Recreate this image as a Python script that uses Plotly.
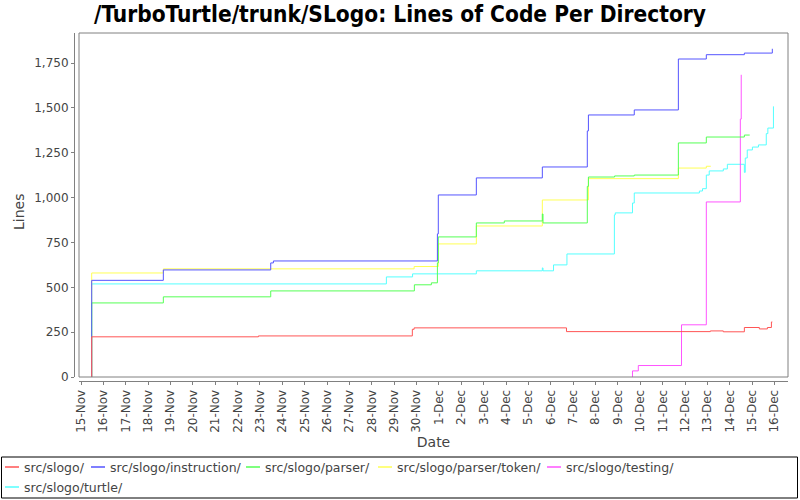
import plotly.graph_objects as go

# series names, in legend order
names = [
    "src/slogo/",
    "src/slogo/instruction/",
    "src/slogo/parser/",
    "src/slogo/parser/token/",
    "src/slogo/testing/",
    "src/slogo/turtle/",
]
colors = ["#FF5555", "#5555FF", "#55FF55", "#FFFF55", "#FF55FF", "#55FFFF"]

red_t = ["2009-11-15 11:28", "2009-11-15 11:28", "2009-11-22 22:19", "2009-11-29 19:26",
         "2009-11-29 21:22", "2009-12-06 16:48", "2009-12-13 03:07", "2009-12-13 17:02",
         "2009-12-14 15:36", "2009-12-15 07:41", "2009-12-15 16:19", "2009-12-15 20:38",
         "2009-12-15 21:36"]
red_v = [0, 224, 229, 266, 274, 253, 257, 252, 276, 268, 276, 307, 307]

blue_t = ["2009-11-15 11:28", "2009-11-15 11:28", "2009-11-18 16:19", "2009-11-23 11:31",
          "2009-11-23 14:24", "2009-11-30 22:19", "2009-11-30 23:17", "2009-12-02 16:05",
          "2009-12-05 14:53", "2009-12-07 15:07", "2009-12-07 16:19", "2009-12-09 17:31",
          "2009-12-11 16:48", "2009-12-12 22:48", "2009-12-14 15:36", "2009-12-15 21:36"]
blue_v = [0, 539, 597, 636, 647, 798, 1015, 1110, 1171, 1372, 1461, 1489, 1773, 1797, 1806, 1830]

green_t = ["2009-11-15 11:28", "2009-11-15 11:28", "2009-11-18 16:19", "2009-11-23 11:31",
           "2009-11-29 21:36", "2009-11-30 15:50", "2009-11-30 22:19", "2009-11-30 23:17",
           "2009-12-02 16:05", "2009-12-03 22:05", "2009-12-05 14:53", "2009-12-05 15:36",
           "2009-12-07 15:07", "2009-12-07 16:19", "2009-12-08 20:24", "2009-12-09 17:31",
           "2009-12-11 16:48", "2009-12-12 22:48", "2009-12-14 15:36", "2009-12-14 21:22"]
green_v = [0, 413, 447, 480, 514, 525, 636, 781, 859, 870, 909, 859, 1063, 1115, 1121, 1126,
           1305, 1338, 1349, 1349]

yellow_t = ["2009-11-15 11:28", "2009-11-15 11:28", "2009-11-18 16:19", "2009-11-29 21:22",
            "2009-11-30 23:17", "2009-12-02 16:05", "2009-12-05 14:53", "2009-12-07 16:19",
            "2009-12-11 16:48", "2009-12-12 22:48", "2009-12-13 03:36"]
yellow_v = [0, 580, 603, 616, 742, 842, 987, 1106, 1165, 1175, 1175]

magenta_t = ["2009-12-09 15:36", "2009-12-09 15:36", "2009-12-09 21:50", "2009-12-11 20:10",
             "2009-12-12 22:48", "2009-12-14 11:17", "2009-12-14 12:14"]
magenta_v = [0, 34, 64, 291, 976, 1438, 1685]

cyan_t = ["2009-11-15 11:28", "2009-11-15 11:28", "2009-11-28 15:36", "2009-11-29 19:41",
          "2009-12-02 16:05", "2009-12-05 14:53", "2009-12-05 15:36", "2009-12-06 02:53",
          "2009-12-06 17:17", "2009-12-08 20:10", "2009-12-08 21:07", "2009-12-09 15:36",
          "2009-12-09 17:31", "2009-12-12 15:22", "2009-12-12 18:43", "2009-12-12 22:48",
          "2009-12-13 01:55", "2009-12-13 17:02", "2009-12-13 21:22", "2009-12-14 15:36",
          "2009-12-14 16:34", "2009-12-14 18:43", "2009-12-15 00:14", "2009-12-15 06:43",
          "2009-12-15 15:07", "2009-12-15 16:48", "2009-12-15 22:48"]
cyan_v = [0, 519, 558, 575, 592, 608, 592, 625, 686, 904, 915, 970, 1026, 1037, 1050, 1126,
          1149, 1160, 1186, 1141, 1221, 1266, 1282, 1294, 1357, 1388, 1509]

y_ticks = [0, 250, 500, 750, 1000, 1250, 1500, 1750]

series = [(red_t, red_v), (blue_t, blue_v), (green_t, green_v),
          (yellow_t, yellow_v), (magenta_t, magenta_v), (cyan_t, cyan_v)]

fig = go.Figure()

# first series drawn last so it sits on top
for i in reversed(range(len(series))):
    t, v = series[i]
    fig.add_trace(go.Scatter(
        x=t, y=v, mode="lines", name=names[i],
        line=dict(color=colors[i], width=1, shape="hv"),
        showlegend=False,
    ))

# pixel -> paper helpers (paper spans x 74..788, y 33..381)
L, R, T, B = 74, 788, 33, 381


def px(x):
    return (x - L) / (R - L)


def py(y):
    return (B - y) / (B - T)


tick_font = dict(family="DejaVu Sans", size=12, color="#444444")
title_font = dict(family="DejaVu Sans", size=14, color="#444444")

fig.update_layout(
    width=800, height=500,
    margin=dict(l=L, r=800 - R, t=T, b=500 - B, autoexpand=False),
    paper_bgcolor="white", plot_bgcolor="white",
    title=dict(
        text="<b>/TurboTurtle/trunk/SLogo: Lines of Code Per Directory</b>",
        x=0.5, xanchor="center", y=0.972, yanchor="middle",
        font=dict(family="DejaVu Sans Condensed", size=22.5, color="black"),
    ),
    xaxis=dict(
        domain=[px(79), 1], anchor="free", position=0, automargin=False,
        type="date", range=["2009-11-14 21:51", "2009-12-16 14:25"],
        tick0="2009-11-15", dtick=86400000, tickformat="%-d-%b", tickangle=-90,
        showgrid=False, zeroline=False,
        showline=True, linecolor="#808080", linewidth=1,
        ticks="outside", ticklen=3, tickcolor="#808080",
        tickfont=tick_font,
        title=dict(text="Date", font=title_font, standoff=5),
    ),
    yaxis=dict(
        domain=[py(377), 1], anchor="free", position=0, automargin=False,
        range=[0, 1918], tickvals=y_ticks, tickformat=",d",
        showgrid=False, zeroline=False,
        showline=True, linecolor="#808080", linewidth=1,
        ticks="outside", ticklen=3, tickcolor="#808080",
        tickfont=tick_font,
    ),
)

# y title placed by hand (sits a little below the plot centre in the original)
fig.add_annotation(text="Lines", xref="paper", yref="paper", x=px(19), y=py(212),
                   xanchor="center", yanchor="middle", textangle=-90, showarrow=False,
                   font=title_font)

# plot box
fig.add_shape(type="rect", xref="x domain", yref="y domain", x0=0, x1=1, y0=0, y1=1,
              line=dict(color="#808080", width=1), layer="above")

# legend box built by hand (two rows like the original)
fig.add_shape(type="rect", xref="paper", yref="paper",
              x0=px(1.5), x1=px(797.5), y0=py(457), y1=py(498),
              line=dict(color="black", width=1))
item_x = [5, 91, 246, 378, 547, 5]
item_y = [467, 467, 467, 467, 467, 487]
for i, name in enumerate(names):
    fig.add_shape(type="line", xref="paper", yref="paper",
                  x0=px(item_x[i]), x1=px(item_x[i] + 14),
                  y0=py(item_y[i]), y1=py(item_y[i]),
                  line=dict(color=colors[i], width=1.5))
    fig.add_annotation(text=name, xref="paper", yref="paper",
                       x=px(item_x[i] + 17), y=py(item_y[i]),
                       xanchor="left", yanchor="middle", showarrow=False,
                       font=dict(family="DejaVu Sans", size=12.5, color="#444444"))

# the page body has a default 8px margin; drop it so the figure fills the window
fig.write_html("out.html", config={"displayModeBar": False},
               post_script="document.body.style.margin='0';")
